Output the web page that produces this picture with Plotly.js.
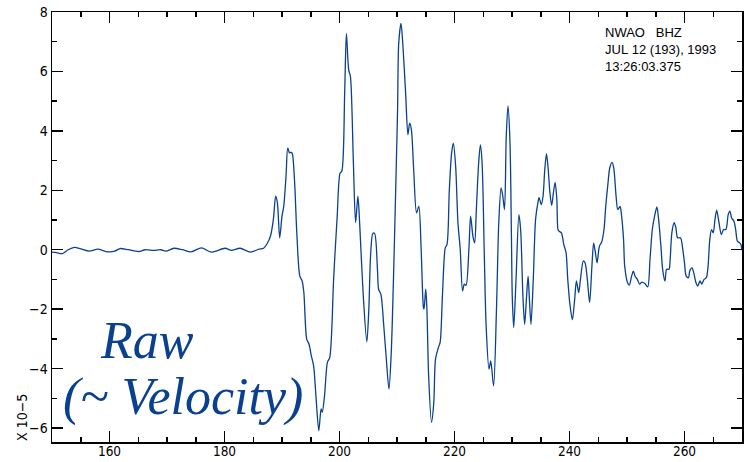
<!DOCTYPE html>
<html>
<head>
<meta charset="utf-8">
<script src="https://cdn.plot.ly/plotly-3.0.1.min.js"></script>
<style>html,body{margin:0;padding:0;background:#fff;}#chart{width:750px;height:462px;}</style>
</head>
<body>
<div id="chart"></div>
<script>
// Time (s) and amplitude (x 10^-5)
const timeSec = [
150.0,150.8,151.8,152.8,153.9,155.0,156.5,158.0,159.4,160.9,161.8,163.3,165.1,166.2,167.7,168.9,169.8,171.2,172.7,174.2,
176.0,177.7,180.1,181.2,182.7,184.5,186.0,186.8,187.4,188.0,188.5,188.9,189.2,189.6,190.0,190.3,190.7,191.0,191.3,191.6,
191.8,192.2,192.6,193.1,193.5,193.8,194.3,194.7,195.1,195.5,195.9,196.4,196.8,197.0,197.4,197.9,198.3,199.0,199.6,200.1,
200.4,200.9,201.2,201.6,201.9,202.4,202.8,203.2,203.5,204.1,204.75,205.1,205.4,205.8,206.1,206.6,206.8,207.2,207.7,208.1,
208.6,209.0,209.4,209.9,210.1,210.3,210.7,211.0,211.5,211.9,212.2,212.5,212.9,213.4,213.8,214.2,214.6,214.7,215.0,215.2,
215.5,216.0,216.4,216.7,217.2,217.5,217.9,218.4,218.7,219.1,219.5,219.8,220.2,220.6,221.0,221.4,221.7,222.0,222.5,222.8,
223.2,223.5,223.8,224.2,224.5,224.8,225.2,225.5,226.0,226.3,226.8,227.3,227.7,228.1,228.4,228.7,229.0,229.3,229.65,229.9,
230.05,230.3,230.7,231.2,231.5,231.9,232.2,232.5,232.8,233.0,233.3,233.7,234.1,234.5,234.7,235.1,235.4,235.7,236.0,236.3,
236.6,236.9,237.2,237.5,237.8,238.0,238.2,238.6,239.0,239.4,239.7,240.1,240.5,240.9,241.2,241.6,241.9,242.4,242.7,243.1,
243.5,243.9,244.2,244.5,244.8,245.2,245.6,246.0,246.3,246.7,247.0,247.4,247.7,248.1,248.4,248.8,249.0,249.4,249.6,250.1,
250.4,250.8,251.1,251.4,251.8,252.2,252.6,253.1,253.6,254.0,254.4,254.8,255.2,255.5,255.9,256.2,256.6,256.9,257.3,257.5,
257.8,258.2,258.5,258.8,259.3,259.7,260.0,260.3,260.7,260.9,261.3,261.6,262.0,262.3,262.7,263.0,263.4,263.8,264.1,264.4,
264.7,265.0,265.3,265.6,266.0,266.4,266.8,267.2,267.6,267.9,268.2,268.6,268.9,269.2,269.6,269.8,270.0
];
const amplitude = [
-0.08,-0.10,-0.13,0.00,0.08,0.03,-0.05,0.02,-0.06,-0.05,0.04,0.00,-0.06,0.00,-0.02,0.00,-0.05,0.05,0.00,-0.07,
0.06,-0.08,0.05,-0.02,0.05,-0.08,0.02,0.05,0.20,0.46,1.02,1.80,1.58,0.40,1.13,1.46,2.47,3.42,3.26,3.28,
3.23,2.25,0.46,-0.89,-1.05,-1.44,-3.01,-3.18,-3.57,-3.91,-4.91,-6.09,-5.36,-5.47,-4.91,-3.79,-3.63,-0.89,1.13,2.58,
2.64,5.27,7.28,6.05,5.83,3.03,0.91,1.80,0.91,-1.44,-3.10,-2.00,-0.21,0.55,0.55,-0.66,-1.33,-1.50,-2.56,-3.57,
-4.69,-3.46,-0.89,3.03,4.71,6.95,7.62,6.95,5.27,3.87,4.26,4.04,2.70,1.24,1.46,0.01,-1.95,-2.00,-1.33,-2.00,
-4.24,-5.81,-5.14,-3.68,-3.29,-3.12,-1.56,0.07,0.18,2.02,3.26,3.59,2.81,0.91,0.01,-1.39,-1.16,-1.20,0.01,1.13,
0.46,0.23,1.35,2.92,3.53,2.92,-0.33,-2.56,-4.02,-3.74,-4.58,-2.00,0.91,2.08,1.80,1.35,3.81,4.84,3.60,0.50,
-1.60,-2.62,-1.00,1.18,0.68,-1.56,-2.51,-1.67,-0.89,-1.56,-2.51,-1.00,1.02,1.58,1.75,1.52,1.80,2.70,3.23,2.70,
1.91,1.49,1.91,2.27,1.69,0.68,0.62,0.57,0.18,-0.10,-1.00,-1.89,-2.36,-1.67,-1.05,-1.44,-1.00,-0.38,-0.44,-1.00,
-1.78,-0.55,0.23,-0.10,-0.44,0.12,0.26,0.68,1.46,2.25,2.75,2.94,2.75,1.80,1.35,1.46,1.24,0.35,-0.55,-1.11,
-1.19,-0.89,-0.72,-0.89,-1.00,-1.16,-1.09,-1.14,-1.25,-0.33,0.68,1.13,1.44,1.02,0.12,-0.66,-1.05,-0.66,-0.66,-0.33,
0.57,0.91,0.74,0.40,0.40,0.01,-0.44,-0.89,-0.94,-0.72,-0.61,-0.77,-1.11,-1.22,-1.05,-1.16,-1.00,-0.94,-0.55,0.35,
0.68,0.57,1.02,1.33,0.91,0.51,0.68,0.68,1.18,1.30,1.07,0.96,0.68,0.29,0.23,0.18,-0.01
];
const headerLines = ["NWAO\u00a0\u00a0\u00a0BHZ", "JUL\u00a012\u00a0(193),\u00a01993", "13:26:03.375"];
const scaleLabel = "X 10\u22125";
const labelLines = ["Raw", "(~ Velocity)"];

const W = 750, H = 462;
const M = {l: 52, r: 8, t: 12, b: 20};
const PW = W - M.l - M.r, PH = H - M.t - M.b;
const px = v => (v - M.l) / PW;
const py = v => (H - M.b - v) / PH;

const narrow = "'Liberation Sans Narrow', 'DejaVu Sans Condensed', Arial, sans-serif";
const blue = "#0a418f";

const annotations = [];
annotations.push({
  text: headerLines.join('<br>'), xref: 'paper', yref: 'paper', x: px(603), y: py(50),
  xanchor: 'left', yanchor: 'middle', align: 'left', showarrow: false,
  font: {family: "'Liberation Sans', Arial, sans-serif", size: 13, color: '#000'}
});
annotations.push({
  text: scaleLabel, xref: 'paper', yref: 'paper', x: px(22), y: py(418),
  xanchor: 'center', yanchor: 'middle', textangle: -90, showarrow: false,
  font: {family: narrow, size: 14, color: '#000'}
});
const lblX = [146.5, 182.5], lblY = [340, 397];
labelLines.forEach((t, i) => annotations.push({
  text: t, xref: 'paper', yref: 'paper', x: px(lblX[i]), y: py(lblY[i]),
  xanchor: 'center', yanchor: 'middle', showarrow: false,
  font: {family: "'Liberation Serif', 'Times New Roman', serif", size: 52, color: blue, style: 'italic'}
}));

const axisCommon = {
  showline: true, linecolor: '#000', linewidth: 1.5, mirror: 'ticks',
  ticks: 'inside', ticklen: 11, tickwidth: 1.5, tickcolor: '#000',
  showgrid: false, zeroline: false,
  tickfont: {family: narrow, size: 14, color: '#000'}
};

const data = [{
  x: timeSec, y: amplitude, type: 'scatter', mode: 'lines',
  line: {color: blue, width: 1.3, shape: 'spline', smoothing: 0.8},
  hoverinfo: 'skip'
}];

const layout = {
  width: W, height: H,
  margin: {l: M.l, r: M.r, t: M.t, b: M.b, pad: 0, autoexpand: false},
  paper_bgcolor: '#fff', plot_bgcolor: '#fff',
  showlegend: false,
  xaxis: Object.assign({}, axisCommon, {
    range: [150, 270], tick0: 0, dtick: 20, ticklabelstandoff: -4,
    tickfont: {family: narrow, size: 13.5, color: '#000'},
    minor: {dtick: 5, ticks: 'inside', ticklen: 5, tickwidth: 1.5, tickcolor: '#000', showgrid: false}
  }),
  yaxis: Object.assign({}, axisCommon, {
    range: [-6.47, 8], tick0: 0, dtick: 2,
    minor: {dtick: 1, ticks: 'inside', ticklen: 5, tickwidth: 1.5, tickcolor: '#000', showgrid: false}
  }),
  annotations: annotations
};

Plotly.newPlot('chart', data, layout, {staticPlot: true, displayModeBar: false});
</script>
</body>
</html>
